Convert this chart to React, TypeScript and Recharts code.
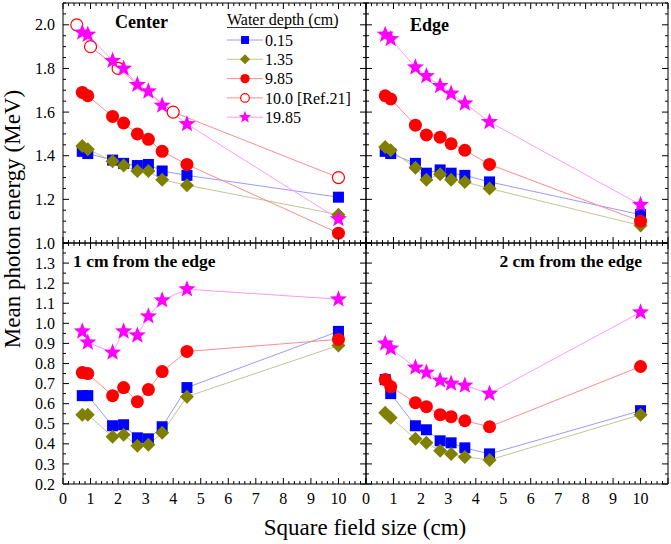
import React from 'react';
import { LineChart, Line, XAxis, YAxis, ReferenceArea } from 'recharts';

const W = 671;
const H = 544;
const FONT = "'Liberation Serif', 'Times New Roman', Times, serif";

// field sizes (cm)
const fieldSizes = [0.7, 0.9, 1.8, 2.2, 2.7, 3.1, 3.6, 4.5, 10];
const refFieldSizes = [0.5, 1, 2, 4, 10];

// Center
const center015 = [1.42, 1.41, 1.38, 1.365, 1.355, 1.36, 1.33, 1.31, 1.21];
const center135 = [1.445, 1.43, 1.375, 1.355, 1.33, 1.33, 1.29, 1.265, 1.13];
const center985 = [1.69, 1.675, 1.58, 1.55, 1.5, 1.475, 1.42, 1.36, 1.045];
const centerRef21 = [2.0, 1.9, 1.8, 1.6, 1.3];
const center1985 = [1.965, 1.955, 1.835, 1.8, 1.725, 1.695, 1.63, 1.545, 1.11];

// Edge
const edge015 = [1.42, 1.41, 1.365, 1.32, 1.335, 1.32, 1.31, 1.28, 1.13];
const edge135 = [1.44, 1.425, 1.345, 1.29, 1.315, 1.29, 1.28, 1.25, 1.08];
const edge985 = [1.675, 1.66, 1.54, 1.495, 1.485, 1.455, 1.425, 1.36, 1.1];
const edge1985 = [1.955, 1.935, 1.805, 1.765, 1.72, 1.685, 1.64, 1.555, 1.175];

// 1 cm from the edge
const oneCm015 = [0.64, 0.64, 0.49, 0.495, 0.43, 0.425, 0.485, 0.68, 0.96];
const oneCm135 = [0.545, 0.545, 0.435, 0.445, 0.39, 0.395, 0.455, 0.635, 0.89];
const oneCm985 = [0.755, 0.75, 0.64, 0.68, 0.61, 0.67, 0.76, 0.86, 0.92];
const oneCm1985 = [0.96, 0.905, 0.855, 0.96, 0.94, 1.035, 1.115, 1.17, 1.12];

// 2 cm from the edge
const twoCm015 = [0.72, 0.65, 0.49, 0.47, 0.415, 0.405, 0.38, 0.35, 0.565];
const twoCm135 = [0.555, 0.53, 0.425, 0.405, 0.365, 0.35, 0.335, 0.32, 0.545];
const twoCm985 = [0.72, 0.685, 0.605, 0.585, 0.545, 0.535, 0.515, 0.485, 0.785];
const twoCm1985 = [0.9, 0.875, 0.78, 0.755, 0.715, 0.7, 0.69, 0.65, 1.055];

// ticks
const xMajor = [0, 1, 2, 3, 4, 5, 6, 7, 8, 9, 10, 11];
const xLabels = [0, 1, 2, 3, 4, 5, 6, 7, 8, 9, 10];
const topYLabels = [1.0, 1.2, 1.4, 1.6, 1.8, 2.0];
const bottomYLabels = [0.2, 0.3, 0.4, 0.5, 0.6, 0.7, 0.8, 0.9, 1.0, 1.1, 1.2, 1.3];

const depthNames = ['0.15', '1.35', '9.85', '10.0 [Ref.21]', '19.85'];

type Kind = 'square' | 'diamond' | 'circle' | 'open' | 'star';
const styles: { kind: Kind; color: string; line: string }[] = [
  { kind: 'square', color: '#0000ff', line: '#9a9aff' },
  { kind: 'diamond', color: '#808000', line: '#c4c496' },
  { kind: 'circle', color: '#ff0000', line: '#ff8c8c' },
  { kind: 'open', color: '#ff0000', line: '#ff8c8c' },
  { kind: 'star', color: '#ff00ff', line: '#ff99ff' },
];

const steps = (from: number, to: number, step: number) => {
  const out: number[] = [];
  for (let v = from; v <= to + 1e-9; v += step) out.push(Math.round(v * 1000) / 1000);
  return out;
};

const near = (list: number[], v: number) => list.some((t) => Math.abs(t - v) < 1e-6);

const pts = (xs: number[], ys: number[]) => xs.map((x, i) => ({ x, y: ys[i] }));

function Marker({ cx, cy, kind, color, scale = 1 }: any) {
  if (cx == null || cy == null) return null;
  if (kind === 'square') {
    const s = 5.5 * scale;
    return <rect x={cx - s} y={cy - s} width={2 * s} height={2 * s} fill={color} />;
  }
  if (kind === 'diamond') {
    const d = 7 * scale;
    return <polygon points={`${cx},${cy - d} ${cx + d},${cy} ${cx},${cy + d} ${cx - d},${cy}`} fill={color} />;
  }
  if (kind === 'circle') return <circle cx={cx} cy={cy} r={6.5 * scale} fill={color} />;
  if (kind === 'open')
    return <circle cx={cx} cy={cy} r={6 * scale} fill="#fff" stroke={color} strokeWidth={1.2} />;
  const R = 9 * scale;
  const r = 3.8 * scale;
  const p: string[] = [];
  for (let i = 0; i < 10; i++) {
    const a = -Math.PI / 2 + (i * Math.PI) / 5;
    const rr = i % 2 === 0 ? R : r;
    p.push(`${cx + rr * Math.cos(a)},${cy + rr * Math.sin(a)}`);
  }
  return <polygon points={p.join(' ')} fill={color} />;
}

type Box = { left: number; right: number; top: number; bottom: number };
type Series = { name: string; xs: number[]; ys: number[]; style: number };

function Panel({
  box,
  series,
  yDomain,
  yMajor,
  yMinorStep,
  yLabels,
  showX,
}: {
  box: Box;
  series: Series[];
  yDomain: [number, number];
  yMajor: number[];
  yMinorStep: number;
  yLabels: number[];
  showX: boolean;
}) {
  const ph = box.bottom - box.top;
  const pw = box.right - box.left;
  const xTicks = steps(0, 11, 0.2);
  const yTicks = steps(yDomain[0], yDomain[1], yMinorStep);

  const xTick = (p: any) => {
    const { x, y, payload } = p;
    const v = payload.value;
    const major = near(xMajor, v);
    const len = major ? 6 : 3;
    return (
      <g>
        <line x1={x} x2={x} y1={y} y2={y - len} stroke="#000" strokeWidth={1} />
        <line x1={x} x2={x} y1={y - ph} y2={y - ph + len} stroke="#000" strokeWidth={1} />
        {showX && near(xLabels, v) && (
          <text x={x} y={y + 20} textAnchor="middle" fontFamily={FONT} fontSize={16} fill="#000">
            {String(Math.round(v))}
          </text>
        )}
      </g>
    );
  };

  const yTick = (p: any) => {
    const { x, y, payload } = p;
    const v = payload.value;
    const major = near(yMajor, v);
    const len = major ? 6 : 3;
    return (
      <g>
        <line x1={x} x2={x + len} y1={y} y2={y} stroke="#000" strokeWidth={1} />
        <line x1={x + pw} x2={x + pw - len} y1={y} y2={y} stroke="#000" strokeWidth={1} />
        {near(yLabels, v) && (
          <text x={x - 8} y={y} dy="0.35em" textAnchor="end" fontFamily={FONT} fontSize={16} fill="#000">
            {v.toFixed(1)}
          </text>
        )}
      </g>
    );
  };

  return (
    <div style={{ position: 'absolute', left: 0, top: 0 }}>
      <LineChart
        width={W}
        height={H}
        margin={{ top: box.top, left: box.left - 1, right: W - box.right, bottom: H - box.bottom - 1 }}
      >
        <XAxis
          type="number"
          dataKey="x"
          domain={[0, 11]}
          ticks={xTicks}
          interval={0}
          height={1}
          tickSize={0}
          tickMargin={0}
          tickLine={false}
          axisLine={false}
          allowDataOverflow
          tick={xTick}
        />
        <YAxis
          type="number"
          domain={yDomain}
          ticks={yTicks}
          interval={0}
          width={1}
          tickSize={0}
          tickMargin={0}
          tickLine={false}
          axisLine={false}
          allowDataOverflow
          tick={yTick}
        />
        <ReferenceArea
          x1={0}
          x2={11}
          y1={yDomain[0]}
          y2={yDomain[1]}
          fill="none"
          fillOpacity={0}
          stroke="#000"
          strokeWidth={1}
          strokeOpacity={1}
          ifOverflow="visible"
        />
        {series.map((s) => {
          const st = styles[s.style];
          return (
            <Line
              key={s.name}
              name={s.name}
              data={pts(s.xs, s.ys)}
              dataKey="y"
              stroke={st.line}
              strokeWidth={1}
              isAnimationActive={false}
              activeDot={false}
              dot={(d: any) => (
                <Marker key={`${s.name}-${d.index}`} cx={d.cx} cy={d.cy} kind={st.kind} color={st.color} />
              )}
            />
          );
        })}
      </LineChart>
    </div>
  );
}

const mk = (ys: number[][], withRef?: number[]): Series[] => {
  const out: Series[] = [
    { name: depthNames[0], xs: fieldSizes, ys: ys[0], style: 0 },
    { name: depthNames[1], xs: fieldSizes, ys: ys[1], style: 1 },
    { name: depthNames[2], xs: fieldSizes, ys: ys[2], style: 2 },
  ];
  if (withRef) out.push({ name: depthNames[3], xs: refFieldSizes, ys: withRef, style: 3 });
  out.push({ name: depthNames[4], xs: fieldSizes, ys: ys[3], style: 4 });
  return out;
};

const topMajor = steps(1.0, 2.1, 0.2);
const bottomMajor = steps(0.2, 1.4, 0.1);

export default function App() {
  const legendRows = [0, 1, 2, 3, 4];
  return (
    <div style={{ position: 'absolute', left: 0, top: 0, width: W, height: H, background: '#fff' }}>
      <Panel
        box={{ left: 63, right: 366, top: 3, bottom: 243 }}
        series={mk([center015, center135, center985, center1985], centerRef21)}
        yDomain={[1.0, 2.1]}
        yMajor={topMajor}
        yMinorStep={0.05}
        yLabels={topYLabels}
        showX={false}
      />
      <Panel
        box={{ left: 366, right: 668, top: 3, bottom: 243 }}
        series={mk([edge015, edge135, edge985, edge1985])}
        yDomain={[1.0, 2.1]}
        yMajor={topMajor}
        yMinorStep={0.05}
        yLabels={[]}
        showX={false}
      />
      <Panel
        box={{ left: 63, right: 366, top: 243, bottom: 484 }}
        series={mk([oneCm015, oneCm135, oneCm985, oneCm1985])}
        yDomain={[0.2, 1.4]}
        yMajor={bottomMajor}
        yMinorStep={0.05}
        yLabels={bottomYLabels}
        showX={true}
      />
      <Panel
        box={{ left: 366, right: 668, top: 243, bottom: 484 }}
        series={mk([twoCm015, twoCm135, twoCm985, twoCm1985])}
        yDomain={[0.2, 1.4]}
        yMajor={bottomMajor}
        yMinorStep={0.05}
        yLabels={[]}
        showX={true}
      />
      <svg
        width={W}
        height={H}
        style={{ position: 'absolute', left: 0, top: 0, pointerEvents: 'none' }}
        fontFamily={FONT}
      >
        <text x={115} y={28} fontSize={18} fontWeight="bold">Center</text>
        <text x={410} y={31} fontSize={18} fontWeight="bold">Edge</text>
        <text x={73} y={267} fontSize={17.5} fontWeight="bold">1 cm from the edge</text>
        <text x={642} y={267} fontSize={17.5} fontWeight="bold" textAnchor="end">2 cm from the edge</text>
        <text x={365} y={535} fontSize={23} textAnchor="middle">Square field size (cm)</text>
        <text transform="translate(20,219) rotate(-90)" fontSize={23} textAnchor="middle">
          Mean photon energy (MeV)
        </text>
        {/* legend */}
        <text x={227} y={25} fontSize={16}>Water depth (cm)</text>
        <line x1={227} x2={337} y1={27.5} y2={27.5} stroke="#000" strokeWidth={0.8} />
        {legendRows.map((i) => {
          const st = styles[i];
          const cy = 40 + i * 19.3;
          return (
            <g key={i}>
              <line x1={227} x2={263} y1={cy} y2={cy} stroke={st.line} strokeWidth={1} />
              <Marker cx={245} cy={cy} kind={st.kind} color={st.color} scale={0.72} />
              <text x={265} y={cy} dy="0.35em" fontSize={16}>{depthNames[i]}</text>
            </g>
          );
        })}
      </svg>
    </div>
  );
}
